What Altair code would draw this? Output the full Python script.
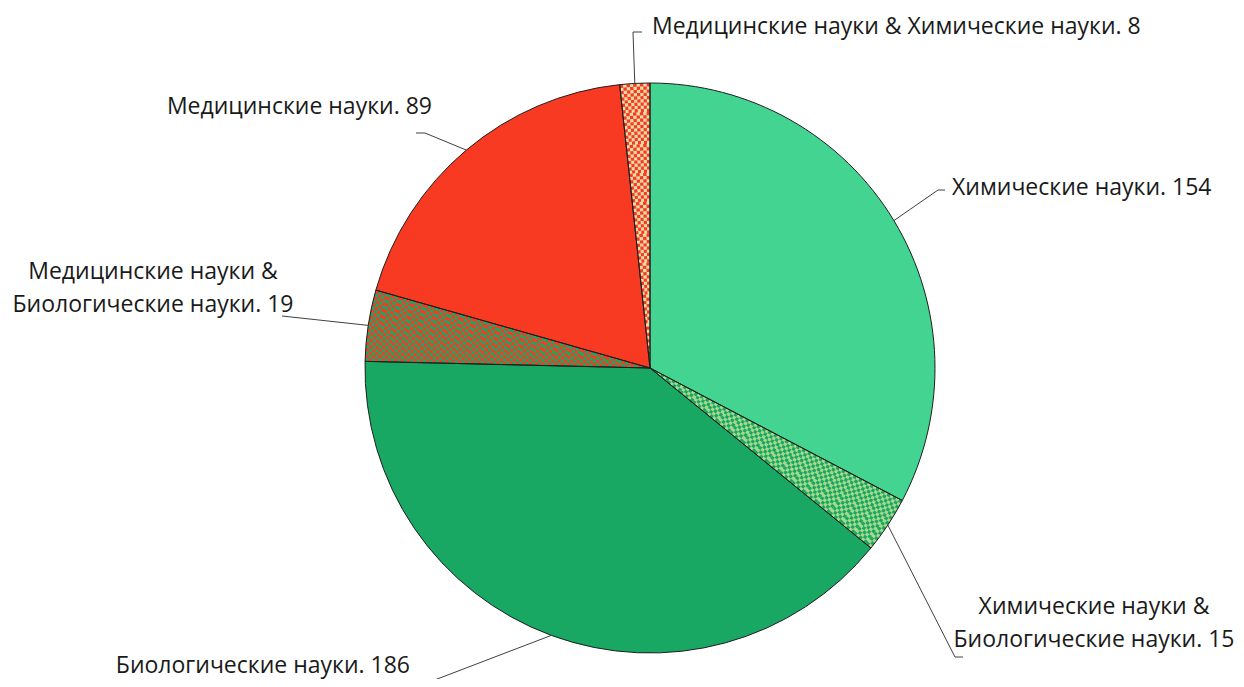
import math
import altair as alt
import pandas as pd

# ---- data ----
categories = [
    "Химические науки",
    "Химические науки & Биологические науки",
    "Биологические науки",
    "Медицинские науки & Биологические науки",
    "Медицинские науки",
    "Медицинские науки & Химические науки",
]
values = [154, 15, 186, 19, 89, 8]
label_texts = [
    "Химические науки. 154",
    "Химические науки &\nБиологические науки. 15",
    "Биологические науки. 186",
    "Медицинские науки &\nБиологические науки. 19",
    "Медицинские науки. 89",
    "Медицинские науки & Химические науки. 8",
]
base_colors = ["#44D492", "#A8D88C", "#18A864", "#F83A22", "#F83A22", "#E8DCA6"]
checker_colors = [None, "#18A864", None, "#18A864", None, "#F83A22"]

# ---- layout (pixels) ----
W, H = 1228, 671
CX, CY, R = 642, 360, 285
CELL = 3.2
FONT = "Open Sans"
FS = 23
LH = 33

# label layout: offsets from pie centre (x right, y down); pos y = first line centre
label_layout = [
    dict(elbow=(288, -178), end=(295, -178), pos=(302, -180), align="left"),
    dict(elbow=(305, 289), end=(313, 289), pos=(444, 239), align="center"),
    dict(elbow=(-218, 313), end=(-218, 313), pos=(-240, 298), align="right"),
    dict(elbow=(-368, -52), end=(-368, -52), pos=(-497, -96), align="center"),
    dict(elbow=(-225, -235), end=(-234, -235), pos=(-218, -261), align="right"),
    dict(elbow=(-17, -336), end=(-8, -336), pos=(2, -341), align="left"),
]

total = sum(values)
rows = []
acc = 0
for c, v, col in zip(categories, values, base_colors):
    rows.append(dict(cat=c, value=v, start=acc, end=acc + v, color=col))
    acc += v
pie_df = pd.DataFrame(rows)

# checker cells (decoration for the mixed categories)
cells = []
n_rings = int(math.ceil(R / CELL))
for row, cc in zip(rows, checker_colors):
    if cc is None:
        continue
    span = row["end"] - row["start"]
    for k in range(n_rings):
        r0 = k * CELL
        r1 = min(R, (k + 1) * CELL)
        rm = (r0 + r1) / 2
        arc_len = span / total * 2 * math.pi * rm
        n = max(1, int(round(arc_len / CELL)))
        for j in range(n):
            if (k + j) % 2 == 0:
                cells.append(dict(
                    start=row["start"] + span * j / n,
                    end=row["start"] + span * (j + 1) / n,
                    r0=r0 / R, r1=r1 / R, color=cc))
cells_df = pd.DataFrame(cells)

# leader lines
line_rows = []
text_rows = []
for i, (row, lay, txt) in enumerate(zip(rows, label_layout, label_texts)):
    mid = (row["start"] + row["end"]) / 2 / total * 2 * math.pi
    sx, sy = R * math.sin(mid), -R * math.cos(mid)
    pts = [(sx, sy), lay["elbow"], lay["end"]]
    for s, (px, py) in enumerate(pts):
        line_rows.append(dict(id=i, seq=s, x=px, y=py))
    text_rows.append(dict(id=i, x=lay["pos"][0], y=lay["pos"][1], text=txt, align=lay["align"]))
line_df = pd.DataFrame(line_rows)
text_df = pd.DataFrame(text_rows)

theta_scale = alt.Scale(domain=[0, total], range=[0, 2 * math.pi])
r_scale = alt.Scale(type="linear", domain=[0, 1], range=[0, R], zero=True)
xs = alt.Scale(domain=[-CX, W - CX], nice=False, zero=False)
ys = alt.Scale(domain=[-CY, H - CY], nice=False, zero=False, reverse=True)

base = alt.Chart(pie_df).mark_arc(radius=R, strokeWidth=0).encode(
    theta=alt.Theta("start:Q", scale=theta_scale),
    theta2="end:Q",
    color=alt.Color("color:N", scale=None),
    x=alt.value(CX), y=alt.value(CY),
)

checker = alt.Chart(cells_df).mark_arc(strokeWidth=0).encode(
    theta=alt.Theta("start:Q", scale=theta_scale),
    theta2="end:Q",
    radius=alt.Radius("r0:Q", scale=r_scale),
    radius2="r1:Q",
    color=alt.Color("color:N", scale=None),
    x=alt.value(CX), y=alt.value(CY),
)

outline = alt.Chart(pie_df).mark_arc(
    radius=R, fillOpacity=0, stroke="#1f1f1f", strokeWidth=1
).encode(
    theta=alt.Theta("start:Q", scale=theta_scale),
    theta2="end:Q",
    x=alt.value(CX), y=alt.value(CY),
)

leaders = alt.Chart(line_df).mark_line(color="#404040", strokeWidth=1).encode(
    x=alt.X("x:Q", scale=xs, axis=None),
    y=alt.Y("y:Q", scale=ys, axis=None),
    detail="id:N",
    order="seq:Q",
)

text_layers = []
for al in ["left", "center", "right"]:
    text_layers.append(
        alt.Chart(text_df[text_df["align"] == al]).mark_text(
            align=al, baseline="middle", font=FONT, fontSize=FS,
            color="#1a1a1a", lineBreak="\n", lineHeight=LH,
        ).encode(
            x=alt.X("x:Q", scale=xs, axis=None),
            y=alt.Y("y:Q", scale=ys, axis=None),
            text="text:N",
        )
    )

chart = alt.layer(base, checker, outline, leaders, *text_layers).properties(
    width=W, height=H,
    autosize=alt.AutoSizeParams(type="none"),
    padding=0,
    background="white",
).configure_view(strokeWidth=0, stroke="transparent")

chart.save("out.html", embed_options={"renderer": "svg", "actions": False})
